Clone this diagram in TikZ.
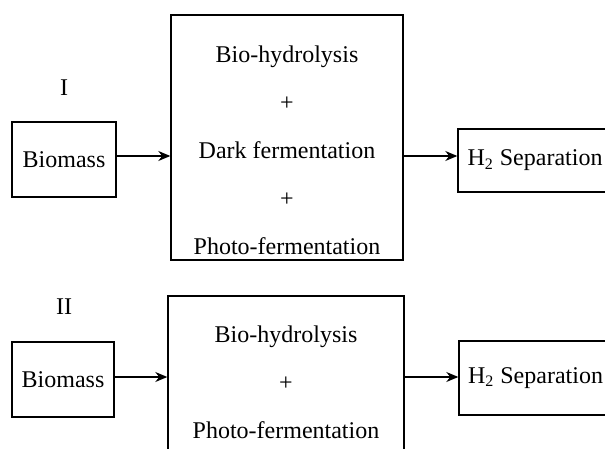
\documentclass[tikz,border=0pt]{standalone}
\usepackage{fontspec}
\setmainfont{Liberation Serif}
\usetikzlibrary{arrows.meta}

\begin{document}
\begin{tikzpicture}[x=0.5pt, y=-0.5pt, semithick, font=\fontsize{12}{24}\selectfont]
\tikzstyle{stage}=[draw=black, line width=0.7pt, inner sep=0pt]
\tikzstyle{flow}=[-{Stealth[length=6pt,width=5pt]}, line width=0.6pt]
\useasboundingbox (0,0) rectangle (605,449);
\clip (0,0) rectangle (605,449);

% scheme I
\node[draw=none]	(L1)	at (64,88)	{I};
\node[stage, minimum width=52pt, minimum height=37.5pt]	(Bio1)	at (64,159.5)	{Biomass};
\node[stage, minimum width=116pt, minimum height=122.5pt]	(R1)	at (287,137.5)	{};
\node[align=center]	(T1)	at (287,150)	{Bio-hydrolysis\\+\\Dark fermentation\\+\\Photo-fermentation};
\node[stage, minimum width=77pt, minimum height=31.5pt]	(H1)	at (535,160.5)	{H\textsubscript{2} Separation};

% scheme II
\node[draw=none]	(L2)	at (64,307)	{II};
\node[stage, minimum width=51pt, minimum height=37.5pt]	(Bio2)	at (63,379.5)	{Biomass};
\node[stage, minimum width=118pt, minimum height=87pt]	(R2)	at (286,383)	{};
\node[align=center]	(T2)	at (286,382.5)	{Bio-hydrolysis\\+\\Photo-fermentation};
\node[stage, minimum width=76.5pt, minimum height=37pt]	(H2)	at (535.5,378)	{H\textsubscript{2} Separation};

\coordinate (a1) at ([yshift=1.75pt]Bio1.east);
\coordinate (a2) at (a1 -| R1.east);
\coordinate (b1) at ([yshift=1.25pt]Bio2.east);
\coordinate (b2) at (b1 -| R2.east);

\path[flow]
(a1)	edge	(a1 -| R1.west)
(a2)	edge	(a2 -| H1.west)
(b1)	edge	(b1 -| R2.west)
(b2)	edge	(b2 -| H2.west);

\end{tikzpicture}
\end{document}
